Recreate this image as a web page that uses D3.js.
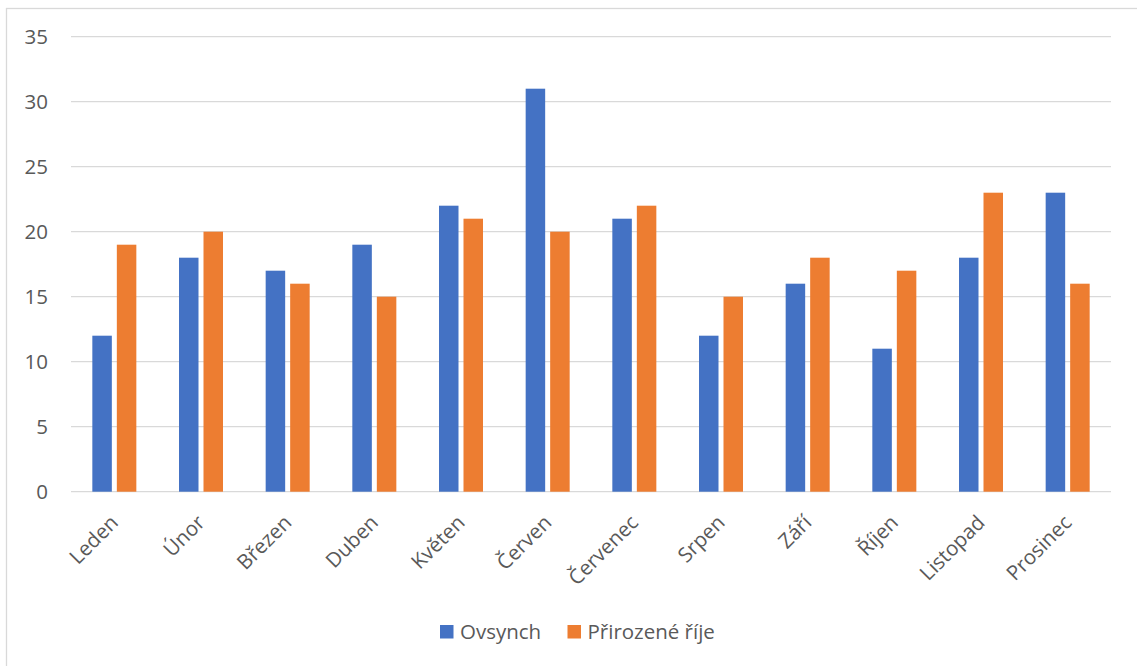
<!DOCTYPE html>
<html>
<head>
<meta charset="utf-8">
<script src="https://cdn.jsdelivr.net/npm/d3@7"></script>
<style>
  html, body { margin: 0; padding: 0; background: #fff; }
  svg { display: block; }
  text { font-family: "Open Sans", "Noto Sans", sans-serif; fill: #595959; }
</style>
</head>
<body>
<svg id="chart" width="1137" height="666"></svg>
<script>
// Monthly counts for two groups
const months = ["Leden", "Únor", "Březen", "Duben", "Květen", "Červen",
                "Červenec", "Srpen", "Září", "Říjen", "Listopad", "Prosinec"];
const seriesNames = ["Ovsynch", "Přirozené říje"];
const ovsynch = [12, 18, 17, 19, 22, 31, 21, 12, 16, 11, 18, 23];
const prirozene = [19, 20, 16, 15, 21, 20, 22, 15, 18, 17, 23, 16];
const yTicks = [0, 5, 10, 15, 20, 25, 30, 35];
const colors = ["#4472C4", "#ED7D31"];

const svg = d3.select("#chart");
const plot = { left: 71, right: 1111, top: 36.7, bottom: 491.7 };

// Outer frame (extends past the right/bottom edge)
svg.append("rect")
  .attr("x", 6.5).attr("y", 8.5)
  .attr("width", 1200).attr("height", 700)
  .attr("fill", "none").attr("stroke", "#D9D9D9").attr("stroke-width", 1.3);

const y = d3.scaleLinear().domain([0, 35]).range([plot.bottom, plot.top]);
const x0 = d3.scaleBand().domain(months).range([plot.left, plot.right]).padding(0);
const groupW = 44;
const x1 = d3.scaleBand().domain(seriesNames).range([0, groupW]).paddingInner(5 / 24.5);

// Horizontal gridlines
svg.append("g").selectAll("line")
  .data(yTicks)
  .join("line")
  .attr("x1", plot.left).attr("x2", plot.right)
  .attr("y1", d => y(d)).attr("y2", d => y(d))
  .attr("stroke", "#D9D9D9").attr("stroke-width", 1.3);

// Y axis labels
svg.append("g").selectAll("text")
  .data(yTicks)
  .join("text")
  .attr("x", 48).attr("y", d => y(d))
  .attr("dy", "0.36em")
  .attr("text-anchor", "end")
  .style("font-size", "20.5px")
  .text(d => d);

// Bars
const rows = months.map((m, i) => ({ month: m, values: [ovsynch[i], prirozene[i]] }));
const groups = svg.append("g").selectAll("g")
  .data(rows)
  .join("g")
  .attr("transform", d => `translate(${x0(d.month) + (x0.bandwidth() - groupW) / 2},0)`);

groups.selectAll("rect")
  .data(d => d.values.map((v, k) => ({ name: seriesNames[k], value: v, k })))
  .join("rect")
  .attr("x", d => x1(d.name))
  .attr("width", x1.bandwidth())
  .attr("y", d => y(d.value))
  .attr("height", d => y(0) - y(d.value))
  .attr("fill", d => colors[d.k]);

// Rotated category labels
svg.append("g").selectAll("text")
  .data(months)
  .join("text")
  .attr("transform", d => `translate(${x0(d) + x0.bandwidth() / 2 - 5},${plot.bottom + 22}) rotate(-45)`)
  .attr("text-anchor", "end")
  .attr("dy", "0.7em")
  .style("font-size", "20.5px")
  .text(d => d);

// Legend
const legend = svg.append("g");
const legendItems = [
  { name: seriesNames[0], x: 440, color: colors[0] },
  { name: seriesNames[1], x: 567.5, color: colors[1] }
];
legendItems.forEach(it => {
  legend.append("rect")
    .attr("x", it.x).attr("y", 625)
    .attr("width", 13.5).attr("height", 13.5)
    .attr("fill", it.color);
  legend.append("text")
    .attr("x", it.x + 20).attr("y", 632)
    .attr("dy", "0.36em")
    .style("font-size", "20.5px")
    .text(it.name);
});
</script>
</body>
</html>
